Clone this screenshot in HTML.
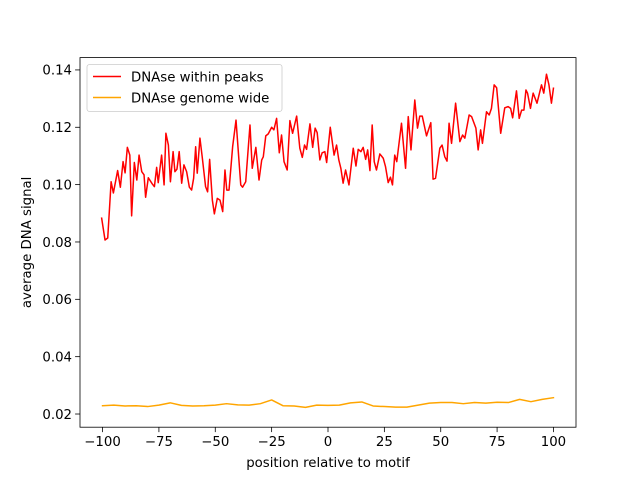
<!DOCTYPE html>
<html><head><meta charset="utf-8"><style>
body{margin:0;background:#fff}
svg{display:block;font-family:"DejaVu Sans","Liberation Sans",sans-serif}
</style></head><body>
<svg id="chart" width="640" height="480" viewBox="0 0 640 480" xmlns="http://www.w3.org/2000/svg">
<rect width="640" height="480" fill="#fff"/>
<g id="plot"></g>
</svg>
<script>
const peaksX=[-100.4,-98.9,-97.7,-96.2,-95.2,-93.3,-92.1,-90.9,-90.0,-89.0,-87.9,-87.1,-85.9,-84.8,-83.8,-82.6,-81.6,-80.9,-79.7,-77.9,-77.0,-76.0,-75.3,-73.8,-72.7,-71.9,-70.8,-69.9,-68.7,-67.9,-67.0,-66.0,-64.9,-63.9,-62.7,-61.5,-60.5,-59.6,-58.7,-58.0,-56.8,-55.8,-54.3,-53.4,-52.5,-51.3,-50.4,-49.1,-47.9,-46.7,-45.7,-44.9,-43.9,-42.3,-40.8,-38.7,-37.9,-36.5,-34.6,-33.6,-32.0,-30.6,-29.4,-28.7,-27.6,-26.5,-25.0,-24.0,-22.8,-21.6,-20.6,-19.5,-18.1,-16.9,-15.7,-13.9,-12.5,-11.4,-10.4,-9.5,-8.0,-6.8,-5.7,-4.8,-3.6,-2.6,-1.4,-0.6,1.0,2.7,3.8,4.8,5.7,6.7,7.8,9.3,11.2,12.4,13.4,14.6,15.6,16.7,17.6,18.6,19.6,20.5,21.5,23.0,24.5,25.5,26.7,27.7,28.6,29.6,30.5,32.6,34.4,35.6,36.8,38.5,39.7,40.7,41.8,43.7,45.6,46.6,47.7,49.6,50.6,51.8,52.8,53.7,54.8,56.6,58.5,59.7,60.7,62.6,63.7,65.6,66.6,67.7,68.5,70.3,71.5,72.5,73.7,74.8,76.6,78.4,79.9,81.0,81.9,83.6,84.8,85.9,86.9,87.8,88.5,89.8,91.0,92.7,94.7,95.7,96.9,98.0,99.1,100];
const peaksY=[0.0883,0.0807,0.0814,0.1010,0.0971,0.1049,0.0991,0.1080,0.1041,0.1130,0.1103,0.0891,0.1077,0.1016,0.1103,0.1045,0.1034,0.0956,0.1024,0.1002,0.0993,0.1060,0.1007,0.1103,0.0999,0.1179,0.1138,0.1010,0.1115,0.1045,0.1054,0.1115,0.1005,0.1069,0.1045,0.0991,0.0981,0.1022,0.1132,0.1040,0.1162,0.1097,0.0993,0.0975,0.1088,0.0946,0.0898,0.0952,0.0946,0.0906,0.1051,0.0981,0.0981,0.1132,0.1225,0.0999,0.0991,0.1010,0.1208,0.1057,0.1130,0.1016,0.1086,0.1097,0.1170,0.1177,0.1200,0.1191,0.1231,0.1111,0.1173,0.1080,0.1051,0.1223,0.1179,0.1239,0.1127,0.1095,0.1138,0.1123,0.1212,0.1130,0.1197,0.1181,0.1086,0.1111,0.1115,0.1077,0.1200,0.1103,0.1138,0.1086,0.1057,0.1005,0.1051,0.0999,0.1127,0.1065,0.1123,0.1115,0.1130,0.1088,0.1121,0.1049,0.1208,0.1080,0.1051,0.1107,0.1092,0.1063,0.1007,0.1026,0.0999,0.1103,0.1080,0.1214,0.1057,0.1237,0.1121,0.1295,0.1197,0.1239,0.1239,0.1170,0.1216,0.1019,0.1022,0.1127,0.1138,0.1097,0.1082,0.1214,0.1144,0.1284,0.1150,0.1173,0.1162,0.1243,0.1237,0.1197,0.1121,0.1191,0.1144,0.1254,0.1243,0.1266,0.1348,0.1338,0.1179,0.1268,0.1272,0.1266,0.1233,0.1327,0.1231,0.1260,0.1260,0.1330,0.1319,0.1266,0.1319,0.1284,0.1348,0.1319,0.1385,0.1348,0.1284,0.1336];
const genomeX=[-100,-95,-90,-85,-80,-75,-70,-65,-60,-55,-50,-45,-40,-35,-30,-25,-20,-15,-10,-5,0,5,10,15,20,25,30,35,40,45,50,55,60,65,70,75,80,85,90,95,100];
const genomeY=[0.0229,0.0231,0.0228,0.0229,0.0226,0.0231,0.0239,0.0230,0.0228,0.0229,0.0231,0.0236,0.0232,0.0231,0.0236,0.0249,0.0229,0.0228,0.0223,0.0231,0.0230,0.0231,0.0239,0.0242,0.0228,0.0226,0.0224,0.0224,0.0231,0.0238,0.0240,0.0240,0.0236,0.0240,0.0238,0.0241,0.0240,0.0251,0.0243,0.0251,0.0257];
const xTicks=[-100,-75,-50,-25,0,25,50,75,100];
const yTicks=[0.02,0.04,0.06,0.08,0.10,0.12,0.14];
const yTickLabels=["0.02","0.04","0.06","0.08","0.10","0.12","0.14"];

const L=80,R=576,T=57.6,B=427.2;
const xMin=-110,xMax=110,yMin=0.0154,yMax=0.1443;
const sx=v=>L+(v-xMin)/(xMax-xMin)*(R-L);
const sy=v=>B-(v-yMin)/(yMax-yMin)*(B-T);
const NS="http://www.w3.org/2000/svg";
const g=document.getElementById('plot');
function mk(tag,attrs,parent){const e=document.createElementNS(NS,tag);for(const k in attrs)e.setAttribute(k,attrs[k]);(parent||g).appendChild(e);return e;}

function line(xs,ys,color,name){
  const d=xs.map((x,i)=>(i?'L':'M')+sx(x).toFixed(2)+','+sy(ys[i]).toFixed(2)).join('');
  const p=mk('path',{d:d,fill:'none',stroke:color,'stroke-width':1.5,'stroke-linejoin':'round','stroke-linecap':'square'});
  
  
}
line(peaksX,peaksY,'#ff0000','series-dnase-within-peaks');
line(genomeX,genomeY,'#ffa500','series-dnase-genome-wide');

const frame=mk('rect',{x:L,y:T,width:R-L,height:B-T,fill:'none',stroke:'#000','stroke-width':0.8});



xTicks.forEach(v=>{
  const x=sx(v);
  const t=mk('line',{x1:x,x2:x,y1:B,y2:B+4.9,stroke:'#000','stroke-width':0.8});
  
  
  const tx=mk('text',{x:x,y:B+19,'text-anchor':'middle','font-size':'13.3px',fill:'#000'});
  tx.textContent=String(v).replace('-','\u2212');
  
  
});
yTicks.forEach((v,i)=>{
  const y=sy(v);
  const t=mk('line',{x1:L-4.9,x2:L,y1:y,y2:y,stroke:'#000','stroke-width':0.8});
  
  
  const tx=mk('text',{x:L-8,y:y+4.8,'text-anchor':'end','font-size':'13.3px',fill:'#000'});
  tx.textContent=yTickLabels[i];
  
  
});
const xl=mk('text',{x:(L+R)/2,y:467,'text-anchor':'middle','font-size':'13.3px',fill:'#000'});
xl.textContent='position relative to motif';


const yl=mk('text',{x:0,y:0,'text-anchor':'middle','font-size':'13.3px',fill:'#000',transform:'translate(31,'+((T+B)/2)+') rotate(-90)'});
yl.textContent='average DNA signal';



const lg=mk('g',{});


mk('rect',{x:87,y:64.5,width:195,height:47,rx:2.5,fill:'#fff','fill-opacity':0.8,stroke:'#ccc','stroke-width':0.8},lg);
[['DNAse within peaks','#ff0000',76.5],['DNAse genome wide','#ffa500',97.5]].forEach(([lab,c,y])=>{
  const e=mk('g',{},lg);
  
  
  mk('line',{x1:93,x2:121,y1:y,y2:y,stroke:c,'stroke-width':1.5},e);
  const t=mk('text',{x:131,y:y+4.8,'font-size':'13.3px',fill:'#000'},e);
  t.textContent=lab;
});
</script>
</body></html>
